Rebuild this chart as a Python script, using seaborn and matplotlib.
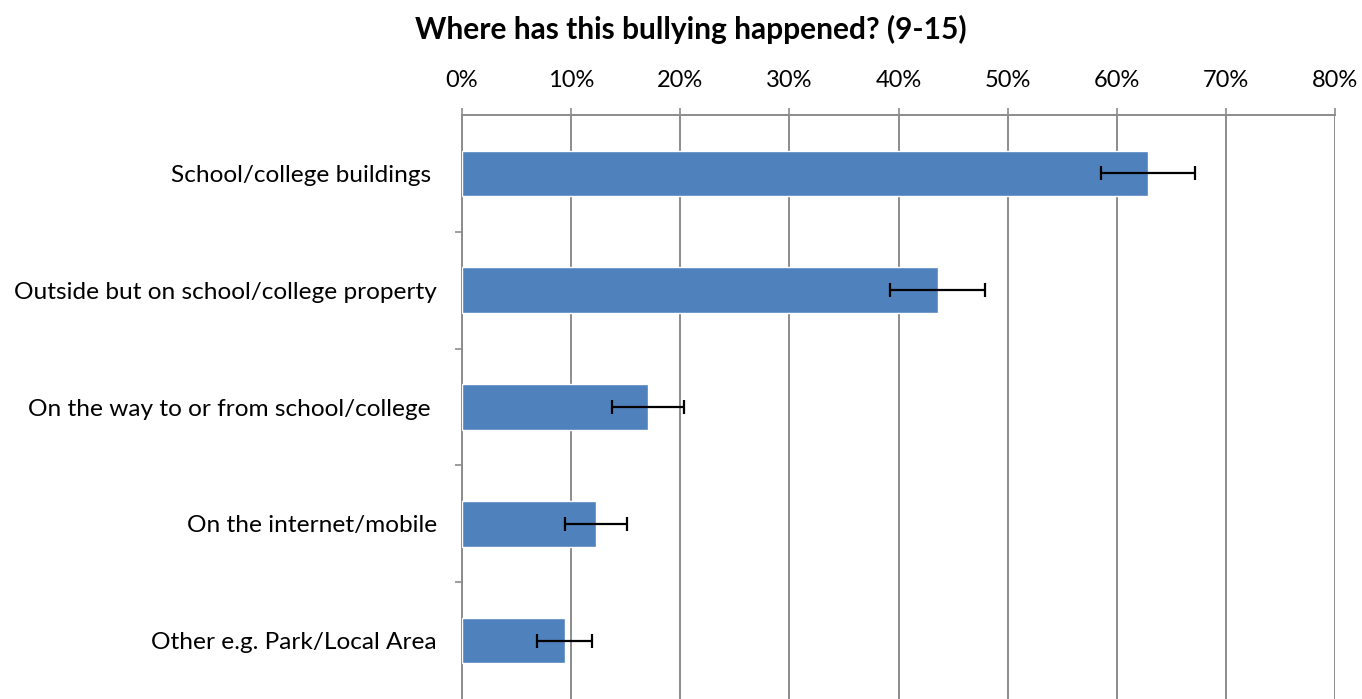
import matplotlib
matplotlib.use("Agg")
import matplotlib.pyplot as plt
import seaborn as sns
import pandas as pd
from matplotlib.ticker import FixedLocator, PercentFormatter

# Values (percent)
places = [
    "School/college buildings ",
    "Outside but on school/college property",
    "On the way to or from school/college ",
    "On the internet/mobile",
    "Other e.g. Park/Local Area",
]
share = [62.9, 43.6, 17.0, 12.3, 9.4]
err = [4.3, 4.35, 3.3, 2.85, 2.5]

df = pd.DataFrame({"place": places, "share": share})

sns.set_style("white")
plt.rcParams["font.family"] = ["Lato", "DejaVu Sans"]
plt.rcParams["text.color"] = "black"
plt.rcParams["xtick.labelcolor"] = "black"
plt.rcParams["ytick.labelcolor"] = "black"

fig = plt.figure(figsize=(13.62, 6.99), dpi=100)
ax = fig.add_axes([462 / 1362, 0.0, (1335 - 462) / 1362, 1 - 115 / 699])

sns.barplot(data=df, x="share", y="place", orient="h", color="#4F81BD",
            saturation=1, width=0.39, ax=ax, zorder=3)
ax.errorbar(share, range(len(places)), xerr=err, fmt="none", ecolor="black",
            elinewidth=1.6, capsize=5, capthick=1.6, zorder=4)

ax.set_xlim(0, 80)
ax.set_ylim(4.5, -0.5)
ax.xaxis.set_major_locator(FixedLocator(range(0, 81, 10)))
ax.xaxis.set_major_formatter(PercentFormatter(decimals=0))
ax.xaxis.tick_top()
ax.grid(axis="x", color="#8c8c8c", linewidth=1.4, zorder=0)
ax.grid(axis="y", visible=False)

ax.yaxis.set_minor_locator(FixedLocator([0.5, 1.5, 2.5, 3.5]))
ax.tick_params(axis="y", which="major", length=0, pad=18, labelsize=17.6)
ax.tick_params(axis="y", which="minor", left=True, length=5, width=1.2,
               color="#8c8c8c", direction="out")
ax.tick_params(axis="x", which="major", top=True, length=5, width=1.2,
               color="#8c8c8c", direction="out", pad=12, labelsize=17)

for side in ["right", "bottom"]:
    ax.spines[side].set_visible(False)
for side in ["top", "left"]:
    ax.spines[side].set_color("#8c8c8c")
    ax.spines[side].set_linewidth(1.4)

ax.set_xlabel("")
ax.set_ylabel("")
fig.text(691 / 1362, 1 - 29 / 699, "Where has this bullying happened? (9-15)",
         ha="center", va="center", fontsize=21.5, fontweight="bold")

fig.savefig("out.png", dpi=100)
